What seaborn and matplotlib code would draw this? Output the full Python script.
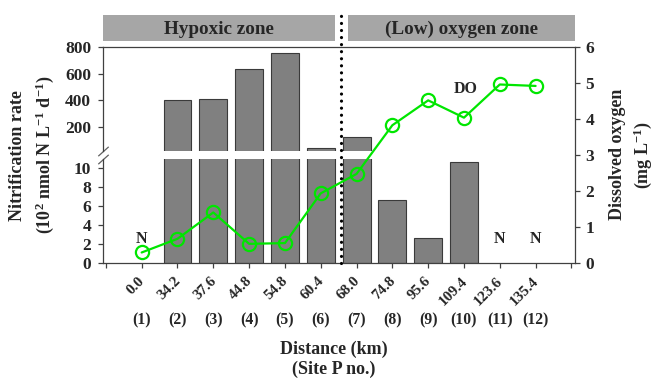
import numpy as np
import pandas as pd
import matplotlib
matplotlib.use("Agg")
import matplotlib.pyplot as plt
import seaborn as sns
from matplotlib.patches import Rectangle
from matplotlib.transforms import ScaledTranslation, blended_transform_factory

# ---------------- data ----------------
distance_labels = ["0.0", "34.2", "37.6", "44.8", "54.8", "60.4",
                   "68.0", "74.8", "95.6", "109.4", "123.6", "135.4"]
site_labels = ["(1)", "(2)", "(3)", "(4)", "(5)", "(6)",
               "(7)", "(8)", "(9)", "(10)", "(11)", "(12)"]
nitrification = [np.nan, 406, 410, 635, 758, 45,
                 123, 6.6, 2.6, 10.55, np.nan, np.nan]
dissolved_oxygen = [0.30, 0.68, 1.41, 0.54, 0.56, 1.94,
                    2.48, 3.83, 4.52, 4.04, 4.96, 4.92]
not_detected_idx = [0, 10, 11]
zone_names = ["Hypoxic zone", "(Low) oxygen zone"]

df = pd.DataFrame({"distance": distance_labels, "rate": nitrification,
                   "pos": np.arange(len(distance_labels)),
                   "do": dissolved_oxygen})

# ---------------- style ----------------
sns.set_style("ticks")
plt.rcParams["font.family"] = ["Liberation Serif", "DejaVu Serif"]
plt.rcParams["font.weight"] = "bold"
plt.rcParams["mathtext.fontset"] = "custom"
plt.rcParams["mathtext.rm"] = "Liberation Serif:bold"
plt.rcParams["mathtext.bf"] = "Liberation Serif:bold"
plt.rcParams["mathtext.it"] = "Liberation Serif:bold"
plt.rcParams["mathtext.default"] = "bf"

W, H = 653, 378
fig = plt.figure(figsize=(W / 100, H / 100), dpi=100)

def fx(px):
    return px / W

def fy(py):
    return 1 - py / H

L, R = 103, 575
top_t, top_b = 47, 151
bot_t, bot_b = 159, 263.3

ax_top = fig.add_axes([fx(L), fy(top_b), fx(R - L), (top_b - top_t) / H])
ax_bot = fig.add_axes([fx(L), fy(bot_b), fx(R - L), (bot_b - bot_t) / H])
ax_do = fig.add_axes([fx(L), fy(bot_b), fx(R - L), (bot_b - top_t) / H])
ax_do.patch.set_alpha(0)

bar_fc = "#808080"
bar_ec = "#3a3a3a"
spine_c = "#404040"
green = "#00e600"
fs = 12.5     # y tick labels
fsx = 11      # x tick labels, site numbers, annotations
fl = 13       # axis titles

for ax in (ax_top, ax_bot):
    sns.barplot(data=df, x="distance", y="rate", order=distance_labels,
                color=bar_fc, edgecolor=bar_ec, linewidth=0.8, width=0.78,
                saturation=1, ax=ax, errorbar=None)
    ax.set_xlim(-1.08, 12.1)
    ax.set_xlabel("")
    ax.set_ylabel("")
    for s in ax.spines.values():
        s.set_color(spine_c)
        s.set_linewidth(0.9)
    ax.spines["right"].set_visible(False)
    ax.tick_params(axis="y", direction="out", length=3.5, width=0.9,
                   color=spine_c, labelsize=fs, pad=5)

ax_top.set_ylim(20, 800)
ax_top.set_yticks([200, 400, 600, 800])
ax_top.spines["bottom"].set_visible(False)
ax_top.tick_params(axis="x", bottom=False, labelbottom=False)

ax_bot.set_ylim(0, 10.9)
ax_bot.set_yticks([0, 2, 4, 6, 8, 10])
ax_bot.spines["top"].set_visible(False)
ax_bot.set_xticks(np.arange(-1, 13))
ax_bot.set_xticklabels([""] + distance_labels + [""])
ax_bot.tick_params(axis="x", direction="out", length=3.5, width=0.9,
                   color=spine_c, labelsize=fsx, pad=5)
offset = ScaledTranslation(1 / 100, -4 / 100, fig.dpi_scale_trans)
for lbl in ax_bot.get_xticklabels():
    lbl.set_rotation(45)
    lbl.set_rotation_mode("anchor")
    lbl.set_ha("right")
    lbl.set_va("center")
    lbl.set_transform(lbl.get_transform() + offset)
    lbl.set_fontweight("bold")

# site numbers row
trans_x = blended_transform_factory(ax_bot.transData, fig.transFigure)
for i, s in enumerate(site_labels):
    ax_bot.text(i, fy(320.5), s, transform=trans_x, ha="center", va="center",
                fontsize=fsx + 0.3, fontweight="bold")

# break marks
kw = dict(marker=[(-1, -0.9), (1, 0.9)], markersize=7.5, linestyle="none",
          color="#606060", mec="#606060", mew=0.9, clip_on=False)
ax_top.plot([0], [0], transform=ax_top.transAxes, **kw)
ax_bot.plot([0], [1], transform=ax_bot.transAxes, **kw)

# ---------------- dissolved oxygen ----------------
sns.lineplot(data=df, x="pos", y="do", ax=ax_do, color=green, linewidth=1.6,
             marker="o", markersize=9.5, markerfacecolor="none",
             markeredgecolor=green, markeredgewidth=1.6)
ax_do.set_xlim(-1.08, 12.1)
ax_do.set_ylim(0, 6)
ax_do.set_yticks(range(0, 7))
ax_do.set_xticks([])
ax_do.set_xlabel("")
ax_do.set_ylabel("")
ax_do.yaxis.tick_right()
for k in ("left", "top", "bottom"):
    ax_do.spines[k].set_visible(False)
ax_do.spines["right"].set_visible(True)
ax_do.spines["right"].set_color(spine_c)
ax_do.spines["right"].set_linewidth(0.9)
ax_do.tick_params(axis="y", direction="out", length=3.5, width=0.9,
                  color=spine_c, labelsize=fs, pad=4)

for i in not_detected_idx:
    ax_do.text(i, 0.67, "N", ha="center", va="center", fontsize=fsx + 0.5,
               fontweight="bold")
ax_do.text(9.04, 4.83, "DO", ha="center", va="center", fontsize=fsx + 0.5,
           fontweight="bold")

# zone header boxes
y0 = (bot_b - 41) / (bot_b - top_t)
y1 = (bot_b - 15) / (bot_b - top_t)
tb = blended_transform_factory(ax_do.transData, ax_do.transAxes)
boxes = [(-1.08, 5.40), (5.75, 12.1)]
for (xa, xb), name in zip(boxes, zone_names):
    ax_do.add_patch(Rectangle((xa, y0), xb - xa, y1 - y0, transform=tb,
                              facecolor="#a6a6a6", edgecolor="none",
                              clip_on=False))
    ax_do.text((xa + xb) / 2, (y0 + y1) / 2 - 0.005, name, transform=tb,
               ha="center", va="center", fontsize=13.8, fontweight="bold")

# dotted separator
ax_do.plot([5.57, 5.57], [0, y1], transform=tb, color="black",
           linewidth=2.3, linestyle=(0, (0.01, 2.2)),
           dash_capstyle="round", clip_on=False)

# axis titles
fig.text(fx(18), fy(156), "Nitrification rate", rotation=90, ha="center",
         va="center", fontsize=fl, fontweight="bold")
fig.text(fx(45), fy(155), r"(10$^{2}$ nmol N L$^{-1}$ d$^{-1}$)", rotation=90,
         ha="center", va="center", fontsize=fl, fontweight="bold")
fig.text(fx(617), fy(154), "Dissolved oxygen", rotation=90, ha="center",
         va="center", fontsize=fl, fontweight="bold")
fig.text(fx(643), fy(155), r"(mg L$^{-1}$)", rotation=90, ha="center",
         va="center", fontsize=fl, fontweight="bold")
fig.text(fx(334), fy(349), "Distance (km)", ha="center", va="center",
         fontsize=fl, fontweight="bold")
fig.text(fx(334), fy(369), "(Site P no.)", ha="center", va="center",
         fontsize=fl, fontweight="bold")

fig.savefig("out.png", dpi=100)
